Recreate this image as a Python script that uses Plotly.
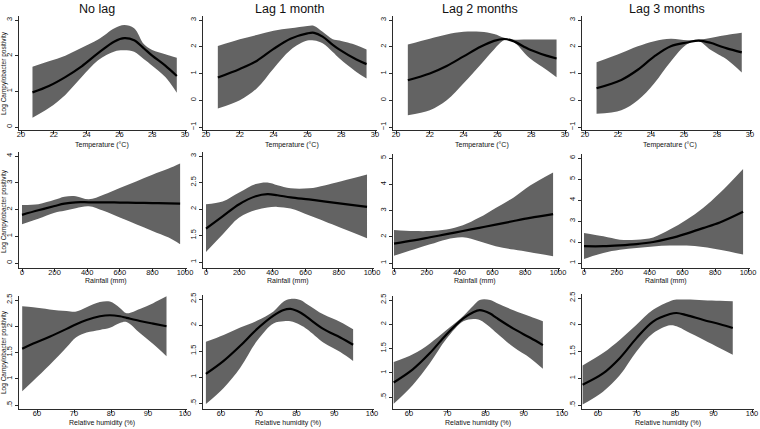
import plotly.graph_objects as go

# ---------------- DATA ----------------
# Row 1: temperature (°C)
temp_lag0_x = [20.7, 21.7, 22.7, 23.7, 24.7, 25.7, 26.3, 26.9, 27.5, 28.0, 28.8, 29.5]
temp_lag0_est = [0.97, 1.15, 1.40, 1.70, 2.07, 2.40, 2.49, 2.43, 2.20, 2.00, 1.72, 1.43]
temp_lag0_hi = [1.69, 1.84, 2.00, 2.22, 2.45, 2.77, 2.86, 2.77, 2.32, 2.16, 2.04, 1.94]
temp_lag0_lo = [0.26, 0.53, 0.90, 1.40, 1.87, 2.12, 2.15, 2.11, 1.90, 1.72, 1.40, 0.96]

temp_lag1_x = [20.7, 22.0, 23.0, 24.0, 25.0, 26.0, 26.4, 26.9, 27.5, 27.9, 28.9, 29.5]
temp_lag1_est = [0.85, 1.17, 1.47, 1.92, 2.30, 2.50, 2.52, 2.38, 2.07, 1.89, 1.52, 1.35]
temp_lag1_hi = [2.03, 2.28, 2.44, 2.60, 2.69, 2.78, 2.78, 2.56, 2.28, 2.23, 2.06, 1.90]
temp_lag1_lo = [-0.31, 0.00, 0.44, 1.19, 1.88, 2.23, 2.23, 2.13, 1.80, 1.56, 1.06, 0.81]

temp_lag2_x = [20.7, 22.0, 23.0, 24.0, 25.0, 25.8, 26.4, 26.9, 27.9, 28.9, 29.5]
temp_lag2_est = [0.75, 1.00, 1.28, 1.64, 2.00, 2.22, 2.29, 2.22, 1.90, 1.67, 1.56]
temp_lag2_hi = [2.08, 2.30, 2.46, 2.56, 2.56, 2.48, 2.34, 2.27, 2.27, 2.27, 2.27]
temp_lag2_lo = [-0.56, -0.37, 0.00, 0.64, 1.33, 1.90, 2.24, 2.21, 1.58, 1.14, 0.86]

temp_lag3_x = [20.7, 22.2, 23.2, 24.2, 25.2, 26.2, 26.9, 27.6, 28.2, 28.6, 29.5]
temp_lag3_est = [0.45, 0.76, 1.14, 1.64, 2.02, 2.16, 2.23, 2.15, 2.02, 1.94, 1.79]
temp_lag3_hi = [1.42, 1.77, 2.02, 2.21, 2.30, 2.24, 2.27, 2.33, 2.40, 2.44, 2.52]
temp_lag3_lo = [-0.50, -0.37, 0.00, 0.64, 1.45, 2.10, 2.21, 1.89, 1.67, 1.52, 1.04]

# Row 2: rainfall (mm)
rain_lag0_x = [0, 100, 200, 260, 330, 410, 500, 600, 700, 800, 900, 970]
rain_lag0_est = [1.80, 1.97, 2.13, 2.22, 2.27, 2.27, 2.27, 2.26, 2.25, 2.24, 2.23, 2.22]
rain_lag0_hi = [2.17, 2.20, 2.36, 2.48, 2.50, 2.38, 2.55, 2.80, 3.05, 3.30, 3.53, 3.72]
rain_lag0_lo = [1.45, 1.65, 1.88, 1.95, 2.05, 2.12, 1.95, 1.70, 1.45, 1.20, 0.95, 0.70]

rain_lag1_x = [0, 100, 200, 300, 370, 430, 510, 620, 720, 970]
rain_lag1_est = [1.63, 1.86, 2.09, 2.24, 2.28, 2.26, 2.22, 2.18, 2.14, 2.04]
rain_lag1_hi = [2.09, 2.14, 2.31, 2.47, 2.50, 2.45, 2.39, 2.39, 2.45, 2.65]
rain_lag1_lo = [1.19, 1.52, 1.84, 1.98, 2.03, 2.04, 2.01, 1.88, 1.76, 1.45]

rain_lag2_x = [0, 120, 220, 320, 420, 520, 620, 730, 830, 970]
rain_lag2_est = [1.74, 1.86, 1.98, 2.10, 2.22, 2.34, 2.46, 2.60, 2.72, 2.86]
rain_lag2_hi = [2.26, 2.22, 2.22, 2.28, 2.44, 2.73, 3.10, 3.50, 3.95, 4.45]
rain_lag2_lo = [1.28, 1.51, 1.71, 1.90, 1.98, 1.83, 1.64, 1.51, 1.41, 1.26]

rain_lag3_x = [0, 118, 219, 320, 422, 523, 625, 726, 828, 970]
rain_lag3_est = [1.80, 1.80, 1.84, 1.90, 2.00, 2.17, 2.40, 2.66, 2.93, 3.44]
rain_lag3_hi = [2.43, 2.27, 2.11, 2.11, 2.22, 2.59, 3.06, 3.62, 4.33, 5.48]
rain_lag3_lo = [1.19, 1.48, 1.63, 1.71, 1.79, 1.83, 1.83, 1.76, 1.63, 1.40]

# Row 3: relative humidity (%)
hum_lag0_x = [56, 59, 63.4, 68, 70.6, 73.4, 77, 79.7, 82.4, 84.2, 87.8, 91.4, 95]
hum_lag0_est = [1.57, 1.67, 1.80, 1.95, 2.04, 2.12, 2.19, 2.21, 2.19, 2.16, 2.10, 2.05, 2.00]
hum_lag0_hi = [2.38, 2.36, 2.32, 2.29, 2.28, 2.36, 2.46, 2.47, 2.35, 2.25, 2.33, 2.44, 2.57]
hum_lag0_lo = [0.76, 0.96, 1.26, 1.60, 1.79, 1.88, 1.93, 1.97, 2.06, 2.08, 1.87, 1.66, 1.43]

hum_lag1_x = [56, 60.7, 65.1, 69.5, 73.9, 76.6, 78.4, 81, 82.8, 87.2, 91.6, 95]
hum_lag1_est = [1.06, 1.31, 1.60, 1.92, 2.18, 2.29, 2.31, 2.24, 2.15, 1.92, 1.76, 1.62]
hum_lag1_hi = [1.68, 1.81, 1.95, 2.08, 2.26, 2.45, 2.50, 2.48, 2.40, 2.20, 2.06, 1.92]
hum_lag1_lo = [0.48, 0.79, 1.18, 1.69, 2.03, 2.07, 2.07, 2.00, 1.92, 1.66, 1.48, 1.31]

hum_lag2_x = [56, 61, 65.4, 69.8, 74.2, 76.8, 78.5, 81.2, 82.9, 87.3, 91.7, 95]
hum_lag2_est = [0.80, 1.07, 1.40, 1.79, 2.12, 2.25, 2.29, 2.22, 2.13, 1.91, 1.72, 1.57]
hum_lag2_hi = [1.22, 1.38, 1.60, 1.88, 2.17, 2.38, 2.50, 2.50, 2.44, 2.29, 2.16, 2.06]
hum_lag2_lo = [0.36, 0.75, 1.19, 1.70, 2.06, 2.11, 2.09, 1.94, 1.82, 1.53, 1.30, 1.08]

hum_lag3_x = [56, 61.3, 65.7, 70, 74.3, 78.7, 80.4, 83, 87.4, 91.7, 95]
hum_lag3_est = [0.88, 1.09, 1.38, 1.75, 2.06, 2.20, 2.22, 2.18, 2.09, 2.01, 1.94]
hum_lag3_hi = [1.24, 1.47, 1.72, 2.00, 2.28, 2.44, 2.47, 2.47, 2.46, 2.45, 2.44]
hum_lag3_lo = [0.51, 0.75, 1.06, 1.50, 1.84, 1.99, 1.97, 1.88, 1.72, 1.56, 1.44]

col_titles = ["No lag", "Lag 1 month", "Lag 2 months", "Lag 3 months"]
x_titles = ["Temperature (°C)", "Rainfall (mm)", "Relative humidity (%)"]
y_title = "Log Campylobacter positivity"

temp_ticks = [20, 22, 24, 26, 28, 30]
rain_ticks = [0, 200, 400, 600, 800, 1000]
hum_ticks = [60, 70, 80, 90, 100]

yt_0_3 = [0, 1, 2, 3]
yt_m1_3 = [-1, 0, 1, 2, 3]
yt_0_4 = [0, 1, 2, 3, 4]
yt_1_3 = [1, 1.5, 2, 2.5, 3]
yt_1_3_lab = ["1", "1.5", "2", "2.5", "3"]
yt_1_5 = [1, 2, 3, 4, 5]
yt_1_6 = [1, 2, 3, 4, 5, 6]
yt_h = [0.5, 1, 1.5, 2, 2.5]
yt_h_lab = [".5", "1", "1.5", "2", "2.5"]

series = [
    [(temp_lag0_x, temp_lag0_est, temp_lag0_lo, temp_lag0_hi),
     (temp_lag1_x, temp_lag1_est, temp_lag1_lo, temp_lag1_hi),
     (temp_lag2_x, temp_lag2_est, temp_lag2_lo, temp_lag2_hi),
     (temp_lag3_x, temp_lag3_est, temp_lag3_lo, temp_lag3_hi)],
    [(rain_lag0_x, rain_lag0_est, rain_lag0_lo, rain_lag0_hi),
     (rain_lag1_x, rain_lag1_est, rain_lag1_lo, rain_lag1_hi),
     (rain_lag2_x, rain_lag2_est, rain_lag2_lo, rain_lag2_hi),
     (rain_lag3_x, rain_lag3_est, rain_lag3_lo, rain_lag3_hi)],
    [(hum_lag0_x, hum_lag0_est, hum_lag0_lo, hum_lag0_hi),
     (hum_lag1_x, hum_lag1_est, hum_lag1_lo, hum_lag1_hi),
     (hum_lag2_x, hum_lag2_est, hum_lag2_lo, hum_lag2_hi),
     (hum_lag3_x, hum_lag3_est, hum_lag3_lo, hum_lag3_hi)],
]
x_ticks_rows = [temp_ticks, rain_ticks, hum_ticks]
y_ticks = [
    [(yt_0_3, None), (yt_m1_3, None), (yt_m1_3, None), (yt_m1_3, None)],
    [(yt_0_4, None), (yt_1_3, yt_1_3_lab), (yt_1_5, None), (yt_1_6, None)],
    [(yt_h, yt_h_lab), (yt_h, yt_h_lab), (yt_h, yt_h_lab), (yt_h, yt_h_lab)],
]

# ---------------- LAYOUT GEOMETRY (pixels) ----------------
W, H = 760, 429
# per row/col: (axis left px, first tick px, last tick px)
xgeo = [
    [(19, 21, 185), (203, 206, 375), (393, 396, 565), (582, 585, 750)],
    [(19, 22, 185), (203, 206, 372), (393, 394, 558), (582, 584, 748)],
    [(19, 37, 185), (203, 221, 372), (393, 409, 562), (582, 598, 752)],
]
# per row/col: (top tick px, bottom tick px)
ygeo = [
    [(20, 127), (20, 127), (20, 127), (20, 127)],
    [(156, 263), (156, 262), (158, 263), (158, 263)],
    [(300, 405), (299, 403), (300, 397), (298, 405)],
]
axis_px = [130, 268, 409]
title_x = [97, 290, 480, 667]
xtitle_x = [[102, 292, 482, 670], [106, 288, 475, 666], [102, 288, 478, 668]]
xtitle_y = [144.5, 280.5, 423]
ytitle_y = [73, 211, 352]

BAND = "#636363"
AX = "#2b2b2b"
FONT = "Liberation Sans, Arial, sans-serif"

fig = go.Figure()
layout = dict(template="none", width=W, height=H, autosize=False,
              margin=dict(l=0, r=0, t=0, b=0, pad=0),
              paper_bgcolor="white", plot_bgcolor="white", showlegend=False,
              font=dict(family=FONT, color="#111"))
annotations = []

k = 0
for r in range(3):
    for c in range(4):
        k += 1
        xs, est, lo, hi = series[r][c]
        xn = "x" if k == 1 else f"x{k}"
        yn = "y" if k == 1 else f"y{k}"
        fig.add_trace(go.Scatter(x=xs, y=lo, xaxis=xn, yaxis=yn, mode="lines",
                                 line=dict(width=0, color=BAND, shape="spline", smoothing=1.0),
                                 hoverinfo="skip"))
        fig.add_trace(go.Scatter(x=xs, y=hi, xaxis=xn, yaxis=yn, mode="lines",
                                 line=dict(width=0, color=BAND, shape="spline", smoothing=1.0),
                                 fill="tonexty", fillcolor=BAND, hoverinfo="skip"))
        fig.add_trace(go.Scatter(x=xs, y=est, xaxis=xn, yaxis=yn, mode="lines",
                                 line=dict(width=2.2, color="black", shape="spline", smoothing=1.0)))
        # x axis
        L, t0, t1 = xgeo[r][c]
        R = t1 + 2
        xt = x_ticks_rows[r]
        v0, v1 = xt[0], xt[-1]
        sx = (t1 - t0) / (v1 - v0)
        xr = [v0 - (t0 - L) / sx, v1 + (R - t1) / sx]
        # y axis
        pt, pb = ygeo[r][c]
        tv, tl = y_ticks[r][c]
        vb, vt = tv[0], tv[-1]
        sy = (pb - pt) / (vt - vb)
        A = axis_px[r]
        Dt = pt - 4
        yr = [vb - (A - pb) / sy, vt + (pt - Dt) / sy]
        axkey = "xaxis" if k == 1 else f"xaxis{k}"
        aykey = "yaxis" if k == 1 else f"yaxis{k}"
        layout[axkey] = dict(domain=[L / W, R / W], range=xr, anchor=yn,
                             automargin=False, tickmode="array",
                             tickvals=xt, showgrid=False, zeroline=False,
                             showline=True, linecolor=AX, linewidth=1,
                             ticks="outside", ticklen=3, tickcolor=AX, tickwidth=1,
                             ticklabelstandoff=-6,
                             tickfont=dict(size=7.5, color="#111"))
        ydict = dict(domain=[1 - A / H, 1 - Dt / H], range=yr, anchor=xn,
                     automargin=False, tickmode="array",
                     tickvals=tv, showgrid=False, zeroline=False,
                     showline=True, linecolor=AX, linewidth=1,
                     ticks="outside", ticklen=3, tickcolor=AX, tickwidth=1, tickangle=-90,
                     tickfont=dict(size=7.5, color="#111"))
        if tl is not None:
            ydict["ticktext"] = tl
        layout[aykey] = ydict
        annotations.append(dict(text=x_titles[r], x=xtitle_x[r][c] / W, y=1 - xtitle_y[r] / H,
                                xref="paper", yref="paper", showarrow=False,
                                xanchor="center", yanchor="middle",
                                font=dict(size=7, color="#111")))

for c in range(4):
    annotations.append(dict(text=col_titles[c], x=title_x[c] / W, y=1 - 9 / H,
                            xref="paper", yref="paper", showarrow=False,
                            xanchor="center", yanchor="middle",
                            font=dict(size=12.5, color="#111")))
for r in range(3):
    annotations.append(dict(text=y_title, x=4 / W, y=1 - ytitle_y[r] / H,
                            xref="paper", yref="paper", showarrow=False, textangle=-90,
                            xanchor="center", yanchor="middle",
                            font=dict(size=6.5, color="#111")))

layout["annotations"] = annotations
fig.update_layout(**layout)
fig.write_html("out.html", config={"displayModeBar": False},
               post_script="document.body.style.margin='0';document.body.style.padding='0';")
